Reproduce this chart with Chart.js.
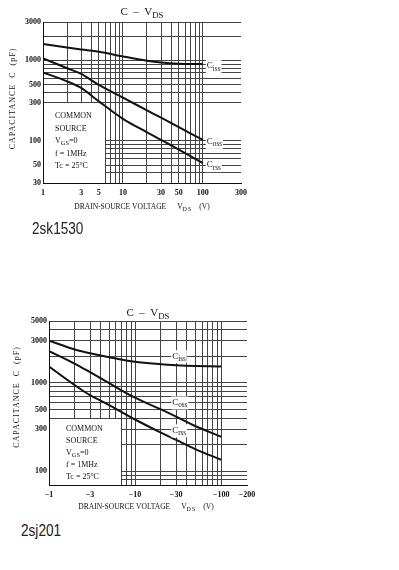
<!DOCTYPE html>
<html>
<head>
<meta charset="utf-8">
<script src="https://cdn.jsdelivr.net/npm/chart.js@4.4.1/dist/chart.umd.min.js"></script>
<style>
    body { margin: 0; background: #fff; width: 399px; height: 570px; position: relative; overflow: hidden; }
    canvas { position: absolute; left: 0; }
    #top-chart { top: 0; width: 260px; height: 222px; }
    #bottom-chart { top: 300px; width: 270px; height: 222px; }
    .part-no {
        position: absolute;
        font-family: "Liberation Sans", Arial, sans-serif;
        font-size: 16px;
        line-height: 1;
        color: #222;
        transform: scaleX(0.85);
        transform-origin: left top;
    }
</style>
</head>
<body>
<canvas id="top-chart" width="260" height="222"></canvas>
<div class="part-no" style="left:32px; top:221px">2sk1530</div>
<canvas id="bottom-chart" width="270" height="222"></canvas>
<div class="part-no" style="left:21px; top:523px">2sj201</div>

<script>
// Datos (capacidad en pF frente a |VDS| en V)
const vdsTop = [1, 2, 3, 5, 10, 20, 30, 50, 100];
const cissTop = [1600, 1450, 1370, 1280, 1120, 990, 940, 910, 900];
const cossTop = [1060, 800, 680, 495, 344, 240, 194, 148, 103];
const crssTop = [711, 550, 455, 310, 188, 128, 103, 78, 53];
const xTicksTop = [1, 3, 5, 10, 30, 50, 100, 300];
const yTicksTop = [30, 50, 100, 300, 500, 1000, 3000];

// 2sj201: canal P, el eje se rotula con VDS negativo
const vdsBottom = [1, 2, 3, 5, 10, 20, 30, 50, 100];
const cissBottom = [3000, 2380, 2160, 1950, 1730, 1620, 1580, 1550, 1530];
const cossBottom = [2280, 1640, 1320, 990, 680, 500, 415, 325, 246];
const crssBottom = [1530, 940, 725, 560, 385, 273, 226, 178, 135];
const xTicksBottom = [1, 3, 10, 30, 100, 200];
const yTicksBottom = [100, 300, 500, 1000, 3000, 5000];

const serif = '"Liberation Serif", "Times New Roman", serif';
const gridColor = '#444';
const inkColor = '#111';

// Valores de la rejilla logarítmica (1..9 por década)
function logGrid(min, max) {
    const values = [];
    for (let d = 1; d <= max; d *= 10) {
        for (let k = 1; k <= 9; k++) {
            const v = d * k;
            if (v >= min && v <= max) values.push(v);
        }
    }
    return values;
}

// Texto con subíndices: partes {t, sub, gap, ls}
function richText(ctx, parts, x, y, size, align, dry) {
    let total = 0;
    const items = parts.map(p => {
        const s = p.sub ? size * 0.8 : size;
        ctx.font = `${s}px ${serif}`;
        ctx.letterSpacing = (p.ls || 0) + 'px';
        const w = ctx.measureText(p.t).width;
        total += (p.gap || 0) + w;
        return { ...p, s, w };
    });
    if (dry) {
        ctx.letterSpacing = '0px';
        return total;
    }
    let cx = align === 'center' ? x - total / 2 : x;
    ctx.textAlign = 'left';
    ctx.textBaseline = 'middle';
    ctx.fillStyle = inkColor;
    items.forEach(p => {
        cx += p.gap || 0;
        ctx.font = `${p.s}px ${serif}`;
        ctx.letterSpacing = (p.ls || 0) + 'px';
        ctx.fillText(p.t, cx, p.sub ? y + size * 0.3 : y);
        cx += p.w;
    });
    ctx.letterSpacing = '0px';
    return total;
}

const legendLines = [
    [{ t: 'COMMON' }],
    [{ t: 'SOURCE' }],
    [{ t: 'V' }, { t: 'GS', sub: true }, { t: '=0' }],
    [{ t: 'f = 1MHz' }],
    [{ t: 'Tc = 25°C' }]
];
const curveNames = ['iss', 'oss', 'rss'];

// Plugin con la caja de condiciones, rótulos de curvas y títulos
function decorPlugin(o) {
    return {
        id: 'decor',
        beforeDatasetsDraw(chart) {
            const { ctx, chartArea: a, scales: { x, y } } = chart;
            const L = Math.round(a.left - 0.5) + 1;
            const R = Math.round(x.getPixelForValue(o.box.x) - 0.5);
            const T = Math.round(y.getPixelForValue(o.box.y) - 0.5) + 1;
            const B = Math.round(a.bottom - 0.5);
            ctx.save();
            ctx.fillStyle = '#fff';
            ctx.fillRect(L, T, R - L, B - T);
            ctx.restore();
        },
        afterDatasetsDraw(chart) {
            const { ctx, scales: { x, y } } = chart;
            ctx.save();
            o.curveLabels.forEach((lab, i) => {
                const parts = [{ t: 'C' }, { t: curveNames[i], sub: true }];
                let px, py;
                if (lab.end) {
                    const pts = chart.data.datasets[i].data;
                    const last = pts[pts.length - 1];
                    px = x.getPixelForValue(last.x) + 4;
                    py = y.getPixelForValue(last.y) + 2;
                } else {
                    px = x.getPixelForValue(lab.x);
                    py = y.getPixelForValue(lab.y);
                }
                const w = richText(ctx, parts, 0, 0, 9, 'left', true);
                ctx.fillStyle = '#fff';
                ctx.fillRect(px - 1, py - 6, w + 2, 13);
                richText(ctx, parts, px, py, 9, 'left');
            });
            // caja de condiciones de medida
            const bx = x.getPixelForValue(x.min) + o.legend.dx;
            const by = y.getPixelForValue(o.box.y) + o.legend.dy;
            legendLines.forEach((line, i) => richText(ctx, line, bx, by + i * o.legend.step, 8, 'left'));
            ctx.restore();
        },
        afterDraw(chart) {
            const { ctx, chartArea: a } = chart;
            const cx = (a.left + a.right) / 2;
            ctx.save();
            richText(ctx, [{ t: 'C  –  V' }, { t: 'DS', sub: true }], cx, a.top + o.titleDy, 11, 'center');
            richText(ctx, [
                { t: 'DRAIN-SOURCE VOLTAGE' },
                { t: 'V', gap: 11 },
                { t: 'DS', sub: true, ls: 1 },
                { t: '(V)', gap: 7 }
            ], cx + o.xTitleDx, a.bottom + o.xTitleDy, 7.5, 'center');
            // título del eje Y, girado
            ctx.translate(o.yTitleX, (a.top + a.bottom) / 2 + o.yTitleDy);
            ctx.rotate(-Math.PI / 2);
            ctx.font = `8px ${serif}`;
            ctx.letterSpacing = '1px';
            ctx.textAlign = 'center';
            ctx.textBaseline = 'middle';
            ctx.fillStyle = inkColor;
            ctx.fillText('CAPACITANCE  C  (pF)', 0, 0);
            ctx.restore();
        }
    };
}

function buildChart(canvasId, o) {
    const canvas = document.getElementById(canvasId);
    const tickFont = { family: serif, size: 8, weight: 'bold' };
    const lineStyle = {
        borderColor: inkColor,
        borderWidth: 2,
        pointRadius: 0,
        tension: 0.35,
        fill: false
    };

    return new Chart(canvas, {
        type: 'line',
        data: {
            datasets: o.series.map(s => ({
                ...lineStyle,
                data: o.vds.map((v, i) => ({ x: v, y: s[i] }))
            }))
        },
        options: {
            responsive: false,
            animation: false,
            devicePixelRatio: 1,
            layout: { padding: o.padding },
            plugins: {
                legend: { display: false },
                tooltip: { enabled: false },
                title: { display: false }
            },
            scales: {
                x: {
                    type: 'logarithmic',
                    min: o.xMin,
                    max: o.xMax,
                    afterBuildTicks: s => { s.ticks = logGrid(o.xMin, o.xMax).map(v => ({ value: v })); },
                    afterFit: s => { s.height = o.xAxisHeight; },
                    ticks: {
                        autoSkip: false,
                        maxRotation: 0,
                        padding: 5,
                        color: inkColor,
                        font: tickFont,
                        callback: v => o.xTicks.includes(v) ? o.xFormat(v) : ''
                    },
                    grid: {
                        drawTicks: false,
                        lineWidth: 1,
                        color: c => (c.tick && c.tick.value > o.xGridMax) ? 'rgba(0,0,0,0)' : gridColor
                    },
                    border: { color: inkColor, width: 1 }
                },
                y: {
                    type: 'logarithmic',
                    min: o.yMin,
                    max: o.yMax,
                    afterBuildTicks: s => { s.ticks = logGrid(o.yMin, o.yMax).map(v => ({ value: v })); },
                    afterFit: s => { s.width = o.yAxisWidth; },
                    ticks: {
                        autoSkip: false,
                        padding: 2,
                        color: inkColor,
                        font: tickFont,
                        callback: v => o.yTicks.includes(v) ? String(v) : ''
                    },
                    grid: {
                        drawTicks: false,
                        lineWidth: 1,
                        color: c => (c.tick && o.yGridSkip.includes(c.tick.value)) ? 'rgba(0,0,0,0)' : gridColor
                    },
                    border: { color: inkColor, width: 1 }
                }
            }
        },
        plugins: [decorPlugin(o)]
    });
}

// 2sk1530
buildChart('top-chart', {
    vds: vdsTop,
    series: [cissTop, cossTop, crssTop],
    xMin: 1, xMax: 300, yMin: 30, yMax: 3000,
    xTicks: xTicksTop, yTicks: yTicksTop,
    xFormat: v => String(v),
    xGridMax: 100,
    yGridSkip: [200],
    padding: { top: 22, right: 19, bottom: 0, left: 0 },
    yAxisWidth: 43,
    xAxisHeight: 39,
    box: { x: 6, y: 300 },
    legend: { dx: 12, dy: 13.5, step: 12.5 },
    curveLabels: [{ end: true }, { end: true }, { end: true }],
    titleDy: -10, xTitleDx: 0, xTitleDy: 24, yTitleX: 13, yTitleDy: -4
});

// 2sj201
buildChart('bottom-chart', {
    vds: vdsBottom,
    series: [cissBottom, cossBottom, crssBottom],
    xMin: 1, xMax: 200, yMin: 70, yMax: 5000,
    xTicks: xTicksBottom, yTicks: yTicksBottom,
    xFormat: v => '\u2212' + v,
    xGridMax: 100,
    yGridSkip: [],
    padding: { top: 21, right: 23, bottom: 0, left: 0 },
    yAxisWidth: 49,
    xAxisHeight: 37,
    box: { x: 7, y: 400 },
    legend: { dx: 17, dy: 10.5, step: 12 },
    curveLabels: [{ x: 27, y: 2000 }, { x: 27, y: 600 }, { x: 27, y: 290 }],
    titleDy: -8, xTitleDx: -2, xTitleDy: 22, yTitleX: 17, yTitleDy: -6
});
</script>
</body>
</html>
